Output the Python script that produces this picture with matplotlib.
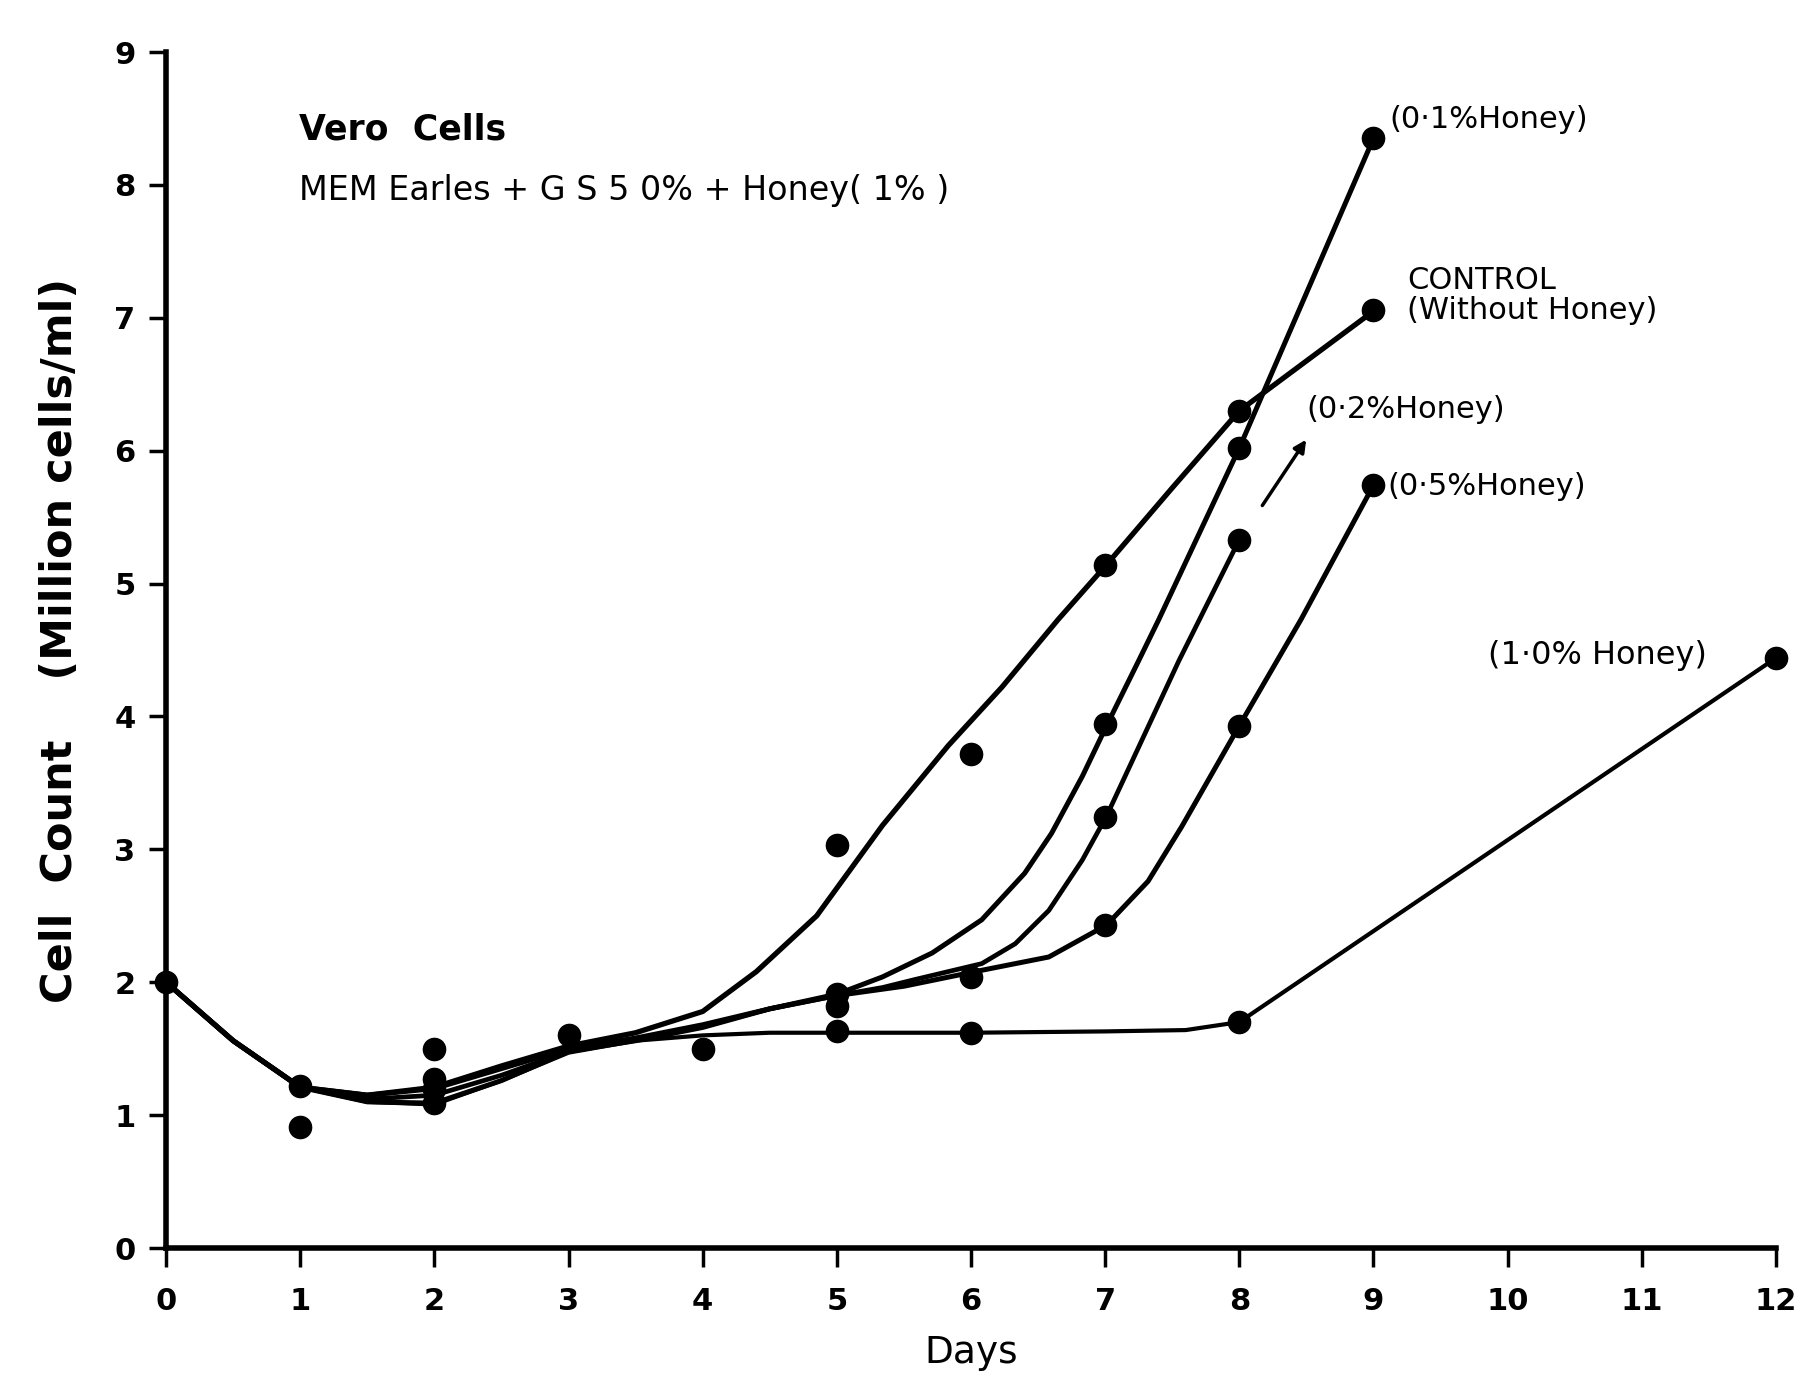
import matplotlib
matplotlib.use("Agg")
import matplotlib.pyplot as plt

plt.rcParams['font.family'] = ['DejaVu Sans']

# ---------------- data ----------------
x_ticks = list(range(0, 13))
x_tick_labels = [str(v) for v in x_ticks]
y_ticks = list(range(0, 10))
y_tick_labels = [str(v) for v in y_ticks]

# hand-drawn fitted curves (day, cell count)
control_curve_x = [0, 0.5, 1, 1.5, 2, 2.5, 3, 3.5, 4, 4.4, 4.85, 5.34, 5.83, 6.23, 6.65, 7, 7.5, 8, 9]
control_curve_y = [2.0, 1.56, 1.21, 1.15, 1.21, 1.37, 1.52, 1.62, 1.78, 2.08, 2.5, 3.18, 3.78, 4.22, 4.73, 5.13, 5.72, 6.3, 7.05]

h01_curve_x = [0, 0.5, 1, 1.5, 2, 2.5, 3, 3.5, 4, 4.5, 5, 5.34, 5.71, 6.08, 6.4, 6.6, 6.83, 7.02, 7.25, 7.4, 8, 9]
h01_curve_y = [2.0, 1.56, 1.21, 1.15, 1.2, 1.35, 1.5, 1.58, 1.68, 1.8, 1.91, 2.04, 2.22, 2.47, 2.82, 3.12, 3.55, 3.95, 4.42, 4.73, 6.02, 8.35]

h02_curve_x = [0, 0.5, 1, 1.5, 2, 2.5, 3, 3.5, 4, 4.5, 5, 5.34, 5.58, 6.08, 6.33, 6.58, 6.83, 7.01, 7.55, 8]
h02_curve_y = [2.0, 1.56, 1.21, 1.12, 1.15, 1.3, 1.48, 1.57, 1.67, 1.8, 1.9, 1.96, 2.02, 2.14, 2.29, 2.54, 2.92, 3.25, 4.42, 5.33]

h05_curve_x = [0, 0.5, 1, 1.5, 2, 2.5, 3, 3.5, 4, 4.5, 5, 5.5, 6.08, 6.58, 7.01, 7.32, 7.57, 8, 8.46, 9]
h05_curve_y = [2.0, 1.56, 1.21, 1.1, 1.09, 1.26, 1.48, 1.56, 1.66, 1.8, 1.9, 1.97, 2.09, 2.19, 2.43, 2.76, 3.17, 3.93, 4.73, 5.74]

h10_curve_x = [0, 0.5, 1, 1.5, 2, 2.5, 3, 3.5, 4, 4.5, 5, 6, 7, 7.6, 8, 12]
h10_curve_y = [2.0, 1.56, 1.21, 1.1, 1.08, 1.26, 1.47, 1.56, 1.6, 1.62, 1.62, 1.62, 1.63, 1.64, 1.70, 4.44]

# measured points
control_pts_x = [0, 1, 2, 3, 5, 6, 7, 8, 9]
control_pts_y = [2.0, 1.22, 1.27, 1.6, 3.03, 3.72, 5.14, 6.3, 7.06]
h01_pts_x = [1, 2, 5, 7, 8, 9]
h01_pts_y = [0.91, 1.5, 1.91, 3.94, 6.02, 8.35]
h02_pts_x = [2, 5, 7, 8]
h02_pts_y = [1.2, 1.82, 3.24, 5.33]
h05_pts_x = [2, 6, 7, 8, 9]
h05_pts_y = [1.09, 2.04, 2.43, 3.93, 5.74]
h10_pts_x = [4, 5, 6, 8, 12]
h10_pts_y = [1.5, 1.63, 1.62, 1.70, 4.44]

title1 = "Vero  Cells"
title2 = "MEM Earles + G S 5 0% + Honey( 1% )"
labels = {
    "h01": "(0·1%Honey)",
    "control": "CONTROL\n(Without Honey)",
    "h02": "(0·2%Honey)",
    "h05": "(0·5%Honey)",
    "h10": "(1·0% Honey)",
}
x_label = "Days"
y_label = "Cell  Count    (Million cells/ml)"

# ---------------- figure ----------------
fig = plt.figure(figsize=(18.17, 13.83), dpi=100)
ax = fig.add_axes([0.0914, 0.0976, 0.8860, 0.8648])
ax.set_xlim(0, 12)
ax.set_ylim(0, 9)

curves = [
    (control_curve_x, control_curve_y, 3.8),
    (h01_curve_x, h01_curve_y, 3.6),
    (h02_curve_x, h02_curve_y, 3.4),
    (h05_curve_x, h05_curve_y, 3.6),
    (h10_curve_x, h10_curve_y, 3.0),
]
for cx, cy, lw in curves:
    ax.plot(cx, cy, color='black', lw=lw, solid_capstyle='round',
            solid_joinstyle='round', clip_on=False, zorder=3)

for px, py in [(control_pts_x, control_pts_y), (h01_pts_x, h01_pts_y),
               (h02_pts_x, h02_pts_y), (h05_pts_x, h05_pts_y),
               (h10_pts_x, h10_pts_y)]:
    ax.plot(px, py, linestyle='none', marker='o', markersize=16,
            color='black', clip_on=False, zorder=4)

# spines
for s in ['top', 'right']:
    ax.spines[s].set_visible(False)
for s in ['left', 'bottom']:
    ax.spines[s].set_linewidth(4)

ax.set_xticks(x_ticks)
ax.set_xticklabels(x_tick_labels)
ax.set_yticks(y_ticks)
ax.set_yticklabels(y_tick_labels)
ax.tick_params(axis='x', direction='out', length=14, width=2.5, pad=14,
               labelsize=22)
ax.tick_params(axis='y', direction='out', length=12, width=2.5, pad=10,
               labelsize=22)
for t in ax.get_xticklabels() + ax.get_yticklabels():
    t.set_fontweight('bold')

ax.set_xlabel(x_label, fontsize=27, labelpad=14)
ax.set_ylabel(y_label, fontsize=31, fontweight='bold')
ax.yaxis.set_label_coords(-0.053, 0.508)

# texts
ax.text(0.99, 8.42, title1, fontsize=25, fontweight='bold', va='center', ha='left')
ax.text(0.99, 7.96, title2, fontsize=24, va='center', ha='left')

ax.text(9.12, 8.49, labels["h01"], fontsize=22, va='center', ha='left')
ax.text(9.25, 7.17, labels["control"], fontsize=22, va='center', ha='left',
        linespacing=1.05)
ax.text(8.5, 6.31, labels["h02"], fontsize=22, va='center', ha='left')
ax.text(9.1, 5.73, labels["h05"], fontsize=22, va='center', ha='left')
ax.text(9.85, 4.46, labels["h10"], fontsize=23, va='center', ha='left')

ax.annotate("", xy=(8.51, 6.10), xytext=(8.16, 5.57),
            arrowprops=dict(arrowstyle='-|>', color='black', lw=2.5,
                            mutation_scale=18))

fig.savefig("out.png", dpi=100, facecolor='white')
